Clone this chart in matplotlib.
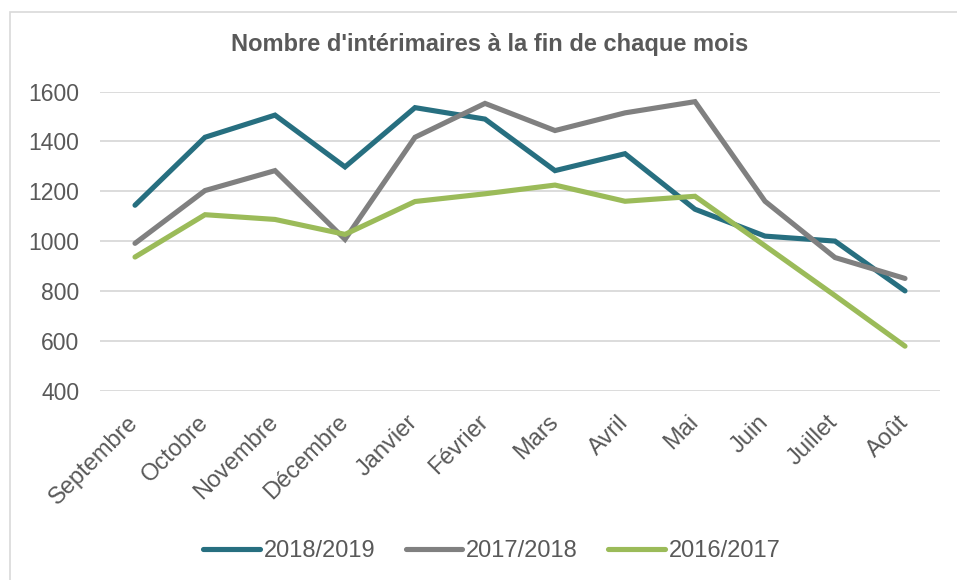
import matplotlib
matplotlib.use("Agg")
import matplotlib.pyplot as plt
import matplotlib.transforms as mtransforms
from matplotlib.patches import Rectangle
import numpy as np

plt.rcParams['font.family'] = ['Liberation Sans', 'DejaVu Sans']

mois = ['Septembre', 'Octobre', 'Novembre', 'Décembre', 'Janvier', 'Février',
        'Mars', 'Avril', 'Mai', 'Juin', 'Juillet', 'Août']
s_2018_2019 = [1144, 1417, 1506, 1298, 1536, 1490, 1283, 1351, 1128, 1020, 1000, 800]
s_2017_2018 = [991, 1203, 1283, 1007, 1417, 1553, 1444, 1515, 1560, 1160, 934, 850]
s_2016_2017 = [936, 1106, 1087, 1027, 1159, 1190, 1225, 1160, 1180, 981, 781, 578]
series = ['2018/2019', '2017/2018', '2016/2017']
couleurs = ['#276F80', '#808080', '#9BBB59']
texte = '#595959'

W, H = 957, 580
fig = plt.figure(figsize=(W / 100, H / 100), dpi=100)
ax = fig.add_axes([100 / W, 1 - 390.5 / H, 840 / W, (390.5 - 91.7) / H])

# chart border (Excel frame)
fig.patches.append(Rectangle((10 / W, -0.1), 1.2, 1 - 12 / H + 0.1,
                             transform=fig.transFigure, fill=False,
                             edgecolor='#D9D9D9', linewidth=1.2))

x = np.arange(len(mois))
for vals, nom, c in zip([s_2018_2019, s_2017_2018, s_2016_2017], series, couleurs):
    ax.plot(x, vals, color=c, linewidth=3.7, label=nom,
            solid_capstyle='round', solid_joinstyle='miter')

ax.set_xlim(-0.5, len(mois) - 0.5)
ax.set_ylim(400, 1600)
ax.set_yticks(range(400, 1601, 200))
ax.yaxis.grid(True, color='#D9D9D9', linewidth=1.3)
ax.set_axisbelow(True)
for sp in ax.spines.values():
    sp.set_visible(False)
ax.tick_params(axis='both', length=0, labelcolor=texte)
ax.tick_params(axis='y', pad=15, labelsize=16.5)
ax.set_xticks(x)
ax.set_xticklabels(mois, rotation=45, ha='right', va='top',
                   rotation_mode='anchor', fontsize=17)
ax.tick_params(axis='x', pad=15)
# nudge the slanted labels a bit to the left, as in the original
decal = mtransforms.ScaledTranslation(-8 / 100, 0, fig.dpi_scale_trans)
for lab in ax.get_xticklabels():
    lab.set_transform(lab.get_transform() + decal)

fig.text(490 / W, 1 - 45 / H, "Nombre d'intérimaires à la fin de chaque mois",
         ha='center', va='center', fontsize=17, fontweight='bold', color=texte)

fig.legend(loc='center', bbox_to_anchor=(492 / W, 1 - 551 / H), ncol=3,
           frameon=False, fontsize=17, labelcolor=texte, handlelength=2.4,
           handletextpad=0.17, columnspacing=1.27)

fig.savefig('out.png', dpi=100)
